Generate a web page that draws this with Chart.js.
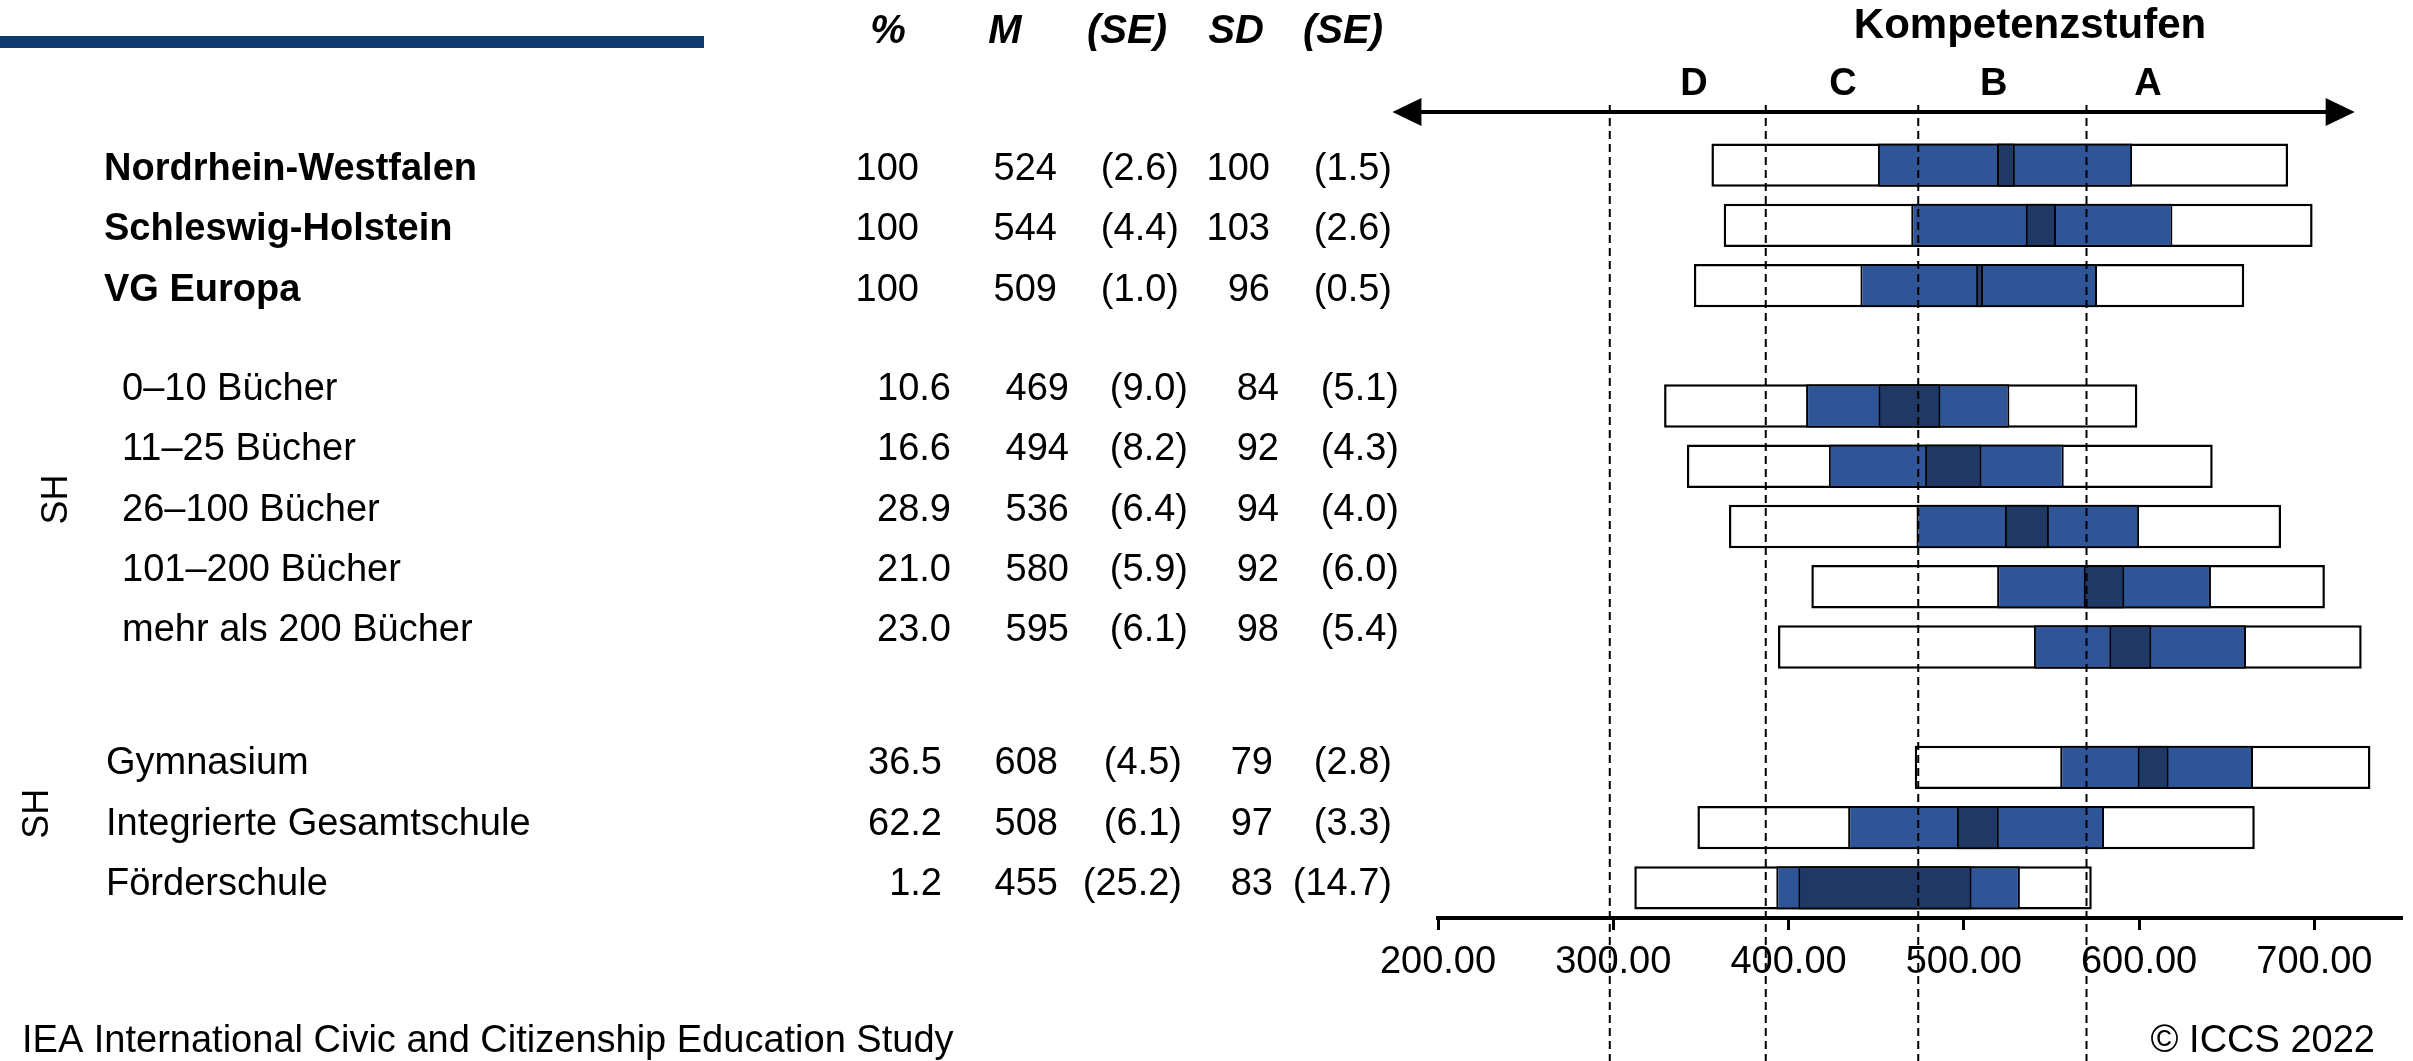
<!DOCTYPE html>
<html>
<head>
<meta charset="utf-8">
<script src="https://cdn.jsdelivr.net/npm/chart.js@4"></script>
<style>
  html, body { margin: 0; padding: 0; background: #fff; }
</style>
</head>
<body>
<canvas id="grafico" width="2413" height="1061"></canvas>
<script>
// righe della tabella ('' = riga vuota fra i gruppi)
const etichette = ['Nordrhein-Westfalen', 'Schleswig-Holstein', 'VG Europa', '',
  '0–10 Bücher', '11–25 Bücher', '26–100 Bücher', '101–200 Bücher', 'mehr als 200 Bücher', '',
  'Gymnasium', 'Integrierte Gesamtschule', 'Förderschule'];
const gruppo = [0, 0, 0, null, 1, 1, 1, 1, 1, null, 2, 2, 2];
const percentuale = ['100', '100', '100', null, '10.6', '16.6', '28.9', '21.0', '23.0', null, '36.5', '62.2', '1.2'];
const medie = [524, 544, 509, null, 469, 494, 536, 580, 595, null, 608, 508, 455];
const seMedie = [2.6, 4.4, 1.0, null, 9.0, 8.2, 6.4, 5.9, 6.1, null, 4.5, 6.1, 25.2];
const devStd = [100, 103, 96, null, 84, 92, 94, 92, 98, null, 79, 97, 83];
const seDevStd = [1.5, 2.6, 0.5, null, 5.1, 4.3, 4.0, 6.0, 5.4, null, 2.8, 3.3, 14.7];

// percentili
const p5 = [356, 363, 346, null, 329, 342, 366, 413, 394, null, 472, 348, 312];
const p25 = [451, 470, 441, null, 410, 423, 473, 519, 540, null, 555, 434, 393];
const p75 = [596, 619, 576, null, 526, 557, 600, 641, 661, null, 665, 580, 532];
const p95 = [685, 699, 660, null, 599, 642, 681, 706, 727, null, 732, 666, 573];

// Kompetenzstufen
const grenzen = [298, 387, 474, 570];
const stufen = ['D', 'C', 'B', 'A'];
const stufenPos = [346, 431, 517, 605];
const xTicks = [200, 300, 400, 500, 600, 700];

const font = 'Liberation Sans, Arial, sans-serif';

function intervallo(a, b) {
  return a.map((v, i) => v == null ? null : [v, b[i]]);
}

const ki = medie.map((m, i) => m == null ? null : [m - 1.96 * seMedie[i], m + 1.96 * seMedie[i]]);

// posizioni del testo (pixel) per gruppo
const labelX = [104, 122, 106];
const colonneDx = [
  [919, 1057, 1179, 1270, 1392],
  [951, 1069, 1188, 1279, 1399],
  [942, 1058, 1182, 1273, 1392]
];
const offsetRiga = [15, -6, 7];

const tabella = {
  id: 'tabella',
  afterDatasetsDraw(chart) {
    const ctx = chart.ctx;
    const x = chart.scales.x;
    ctx.save();
    ctx.strokeStyle = '#000';
    ctx.lineWidth = 2;
    ctx.setLineDash([8, 5]);
    grenzen.forEach(g => {
      const px = x.getPixelForValue(g);
      ctx.beginPath();
      ctx.moveTo(px, 105);
      ctx.lineTo(px, 1061);
      ctx.stroke();
    });
    ctx.restore();
  },
  afterDraw(chart) {
    const ctx = chart.ctx;
    const x = chart.scales.x;
    const y = chart.scales.y;
    ctx.save();

    // barra blu in alto
    ctx.fillStyle = '#0E3A6E';
    ctx.fillRect(0, 36, 704, 12);

    ctx.fillStyle = '#000';
    ctx.textBaseline = 'alphabetic';

    // intestazione
    ctx.font = 'italic bold 40px ' + font;
    ctx.textAlign = 'center';
    [['%', 888], ['M', 1005], ['(SE)', 1127], ['SD', 1236], ['(SE)', 1343]].forEach(h => {
      ctx.fillText(h[0], h[1], 43);
    });

    // righe
    etichette.forEach((lab, i) => {
      const g = gruppo[i];
      if (g == null) return;
      const base = y.getPixelForValue(i) + offsetRiga[g];
      ctx.font = (g === 0 ? 'bold ' : '') + '38px ' + font;
      ctx.textAlign = 'left';
      ctx.fillText(lab, labelX[g], base);
      ctx.font = '38px ' + font;
      ctx.textAlign = 'right';
      const valori = [percentuale[i], String(medie[i]), '(' + seMedie[i].toFixed(1) + ')',
        String(devStd[i]), '(' + seDevStd[i].toFixed(1) + ')'];
      valori.forEach((v, c) => ctx.fillText(v, colonneDx[g][c], base));
    });

    // SH verticale
    [[1, 57, -27], [2, 38, -14]].forEach(s => {
      const righe = gruppo.map((g, i) => g === s[0] ? y.getPixelForValue(i) : null).filter(v => v != null);
      const cy = righe.reduce((a, b) => a + b, 0) / righe.length + s[2];
      ctx.save();
      ctx.translate(s[1], cy);
      ctx.rotate(-Math.PI / 2);
      ctx.font = '36px ' + font;
      ctx.textAlign = 'center';
      ctx.textBaseline = 'middle';
      ctx.fillText('SH', 0, 0);
      ctx.restore();
    });

    // titolo e livelli
    ctx.textAlign = 'center';
    ctx.font = 'bold 42px ' + font;
    ctx.fillText('Kompetenzstufen', 2030, 38);
    ctx.font = 'bold 38px ' + font;
    stufen.forEach((s, i) => ctx.fillText(s, x.getPixelForValue(stufenPos[i]), 95));

    // freccia
    const xa = x.getPixelForValue(174);
    const xb = x.getPixelForValue(723);
    const ya = 112;
    ctx.strokeStyle = '#000';
    ctx.lineWidth = 4;
    ctx.beginPath();
    ctx.moveTo(xa + 20, ya);
    ctx.lineTo(xb - 20, ya);
    ctx.stroke();
    ctx.beginPath();
    ctx.moveTo(xa, ya);
    ctx.lineTo(xa + 29, ya - 14);
    ctx.lineTo(xa + 29, ya + 14);
    ctx.closePath();
    ctx.fill();
    ctx.beginPath();
    ctx.moveTo(xb, ya);
    ctx.lineTo(xb - 29, ya - 14);
    ctx.lineTo(xb - 29, ya + 14);
    ctx.closePath();
    ctx.fill();

    // piè di pagina
    ctx.font = '38px ' + font;
    ctx.textAlign = 'left';
    ctx.fillText('IEA International Civic and Citizenship Education Study', 22, 1052);
    ctx.textAlign = 'right';
    ctx.fillText('© ICCS 2022', 2375, 1052);
    ctx.restore();
  }
};

new Chart(document.getElementById('grafico'), {
  type: 'bar',
  data: {
    labels: etichette,
    datasets: [
      {
        label: 'Konfidenzintervall',
        data: ki,
        backgroundColor: '#203864',
        borderColor: '#000',
        borderWidth: 2,
        borderSkipped: false,
        grouped: false,
        order: 1
      },
      {
        label: '25.–75. Perzentil',
        data: intervallo(p25, p75),
        backgroundColor: '#2F5597',
        borderColor: '#000',
        borderWidth: 2,
        borderSkipped: false,
        grouped: false,
        order: 2
      },
      {
        label: '5.–95. Perzentil',
        data: intervallo(p5, p95),
        backgroundColor: '#fff',
        borderColor: '#000',
        borderWidth: 2.5,
        borderSkipped: false,
        grouped: false,
        order: 3
      }
    ]
  },
  options: {
    indexAxis: 'y',
    responsive: false,
    animation: false,
    devicePixelRatio: 1,
    layout: { padding: { left: 1438, right: 11, top: 135, bottom: 0 } },
    plugins: { legend: { display: false }, tooltip: { enabled: false } },
    scales: {
      x: {
        type: 'linear',
        min: 200,
        max: 750,
        afterFit: s => { s.height = 143; },
        afterBuildTicks: s => { s.ticks = xTicks.map(v => ({ value: v })); },
        ticks: {
          callback: v => Number(v).toFixed(2),
          color: '#000',
          font: { family: font, size: 38 },
          padding: 10,
          maxRotation: 0,
          autoSkip: false
        },
        grid: { drawOnChartArea: false, drawTicks: true, tickLength: 12, tickWidth: 3, color: '#000' },
        border: { display: true, color: '#000', width: 4 }
      },
      y: {
        type: 'category',
        display: false,
        offset: true,
        grid: { display: false }
      }
    }
  },
  plugins: [tabella]
});
</script>
</body>
</html>
